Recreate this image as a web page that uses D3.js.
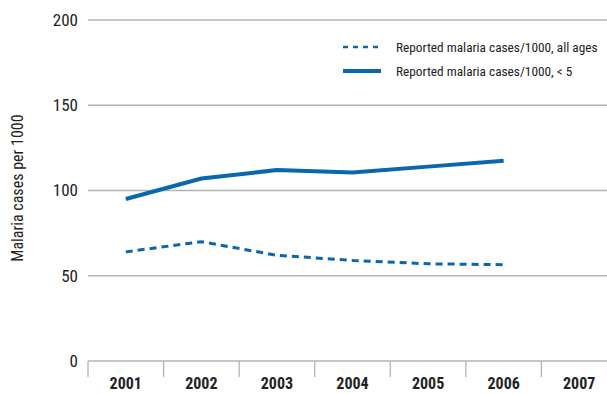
<!DOCTYPE html>
<html><head><meta charset="utf-8">
<script src="https://cdn.jsdelivr.net/npm/d3@7"></script>
<style>
body{margin:0;background:#fff;}
text{font-family:"Liberation Sans Narrow","Roboto Condensed","Arial Narrow",sans-serif;}
</style></head>
<body>
<svg id="c" width="607" height="394"></svg>
<script>
const years = ["2001","2002","2003","2004","2005","2006","2007"];
const allAges = [64, 70, 62, 59, 57, 56.5];
const under5 = [95, 107, 112, 110.5, 114, 117.5];
const yTicks = [0, 50, 100, 150, 200];
const seriesNames = ["Reported malaria cases/1000, all ages", "Reported malaria cases/1000, < 5"];

(function(){
const svg = d3.select("#c");
const mLeft = 88, mRight = 617, mTop = 20, mBottom = 361;
const x = d3.scaleBand().domain(years).range([mLeft, mRight]);
const y = d3.scaleLinear().domain([0, 200]).range([mBottom, mTop]);
const color = "#0a66ad";

svg.append("g").selectAll("line").data(yTicks).join("line")
  .attr("x1", mLeft).attr("x2", 607)
  .attr("y1", d => y(d)).attr("y2", d => y(d))
  .attr("stroke", "#b3b3b3").attr("stroke-width", 1.3);

svg.append("g").selectAll("text").data(yTicks).join("text")
  .attr("x", 78).attr("y", d => y(d)).attr("dy", "0.35em")
  .attr("text-anchor", "end").attr("font-size", 17).attr("fill", "#222")
  .text(d => d);

const xb = years.map(d => x(d)).concat([mRight]);
svg.append("g").selectAll("line").data(xb).join("line")
  .attr("x1", d => d).attr("x2", d => d)
  .attr("y1", mBottom).attr("y2", mBottom + 16)
  .attr("stroke", "#b3b3b3").attr("stroke-width", 1.3);
svg.append("g").selectAll("text").data(years).join("text")
  .attr("x", d => x(d) + x.bandwidth() / 2).attr("y", 389)
  .attr("text-anchor", "middle").attr("font-size", 16).attr("font-weight", "bold").attr("fill", "#222")
  .text(d => d);

svg.append("text").attr("transform", "translate(23,188) rotate(-90)")
  .attr("text-anchor", "middle").attr("font-size", 16).attr("fill", "#222")
  .text("Malaria cases per 1000");

const line = d3.line().x((d, i) => x(years[i]) + x.bandwidth() / 2).y(d => y(d));
svg.append("path").datum(allAges).attr("d", line).attr("fill", "none")
  .attr("stroke", color).attr("stroke-width", 3).attr("stroke-dasharray", "7,5");
svg.append("path").datum(under5).attr("d", line).attr("fill", "none")
  .attr("stroke", color).attr("stroke-width", 4);

const lg = svg.append("g");
[0, 1].forEach(i => {
  const ly = 47 + i * 24;
  lg.append("line").attr("x1", 343).attr("x2", 381).attr("y1", ly).attr("y2", ly)
    .attr("stroke", color).attr("stroke-width", i === 0 ? 2.5 : 4)
    .attr("stroke-dasharray", i === 0 ? "5,5" : null);
  lg.append("text").attr("x", 396).attr("y", ly).attr("dy", "0.35em")
    .attr("font-size", 13.3).attr("fill", "#222").text(seriesNames[i]);
});
})();
</script>
</body></html>
